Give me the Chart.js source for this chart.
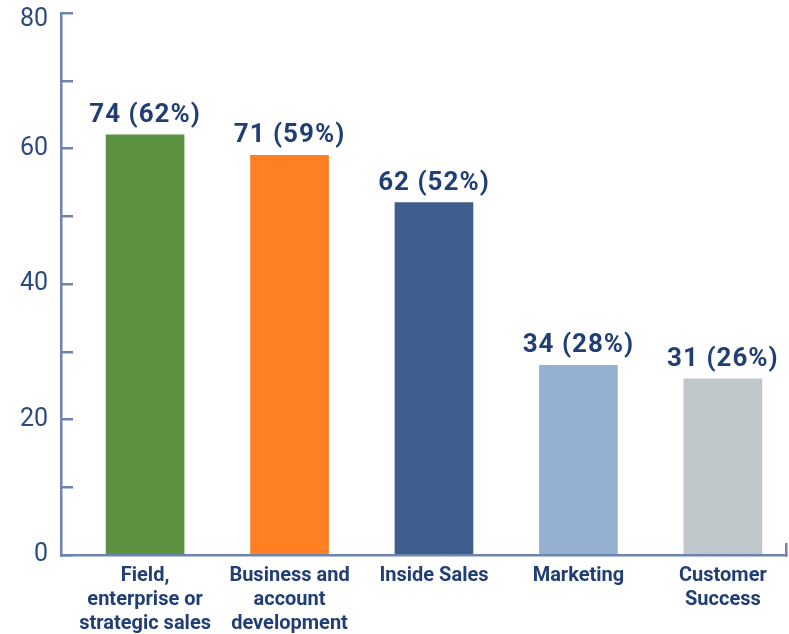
<!DOCTYPE html>
<html>
<head>
<meta charset="utf-8">
<script src="https://cdn.jsdelivr.net/npm/chart.js@4/dist/chart.umd.min.js"></script>
<style>
  html, body { margin: 0; padding: 0; background: #fff; }
  #wrap { width: 789px; height: 634px; }
</style>
</head>
<body>
<div id="wrap"><canvas id="roles"></canvas></div>
<script>
// roles of respondents: count and share of total
var roles = [
	['Field,', 'enterprise or', 'strategic sales'],
	['Business and', 'account', 'development'],
	'Inside Sales',
	'Marketing',
	['Customer', 'Success']
];
var counts = [74, 71, 62, 34, 31];
var shares = [62, 59, 52, 28, 26];
var barColors = ['#5b9140', '#ff7f22', '#3f5e8d', '#95b1d1', '#bfc7cb'];
var yTicks = [0, 20, 40, 60, 80];
var yMax = 80;

var axisColor = '#6c84ae';
var textColor = '#213f74';

// bars sit at x = 1..5 on a linear axis so the first one can keep its gap from the y axis
var points = shares.map(function(v, i) { return { x: i + 1, y: v }; });

// "74 (62%)" over each bar
var barLabels = {
	id: 'barLabels',
	afterDatasetsDraw: function(chart) {
		var ctx = chart.ctx;
		var meta = chart.getDatasetMeta(0);
		ctx.save();
		ctx.fillStyle = textColor;
		ctx.font = 'bold 26px Roboto';
		ctx.textAlign = 'center';
		ctx.textBaseline = 'alphabetic';
		if ('letterSpacing' in ctx) ctx.letterSpacing = '1px';
		meta.data.forEach(function(bar, i) {
			ctx.fillText(counts[i] + ' (' + shares[i] + '%)', bar.x, bar.y - 13);
		});
		ctx.restore();
	}
};

new Chart(document.getElementById('roles'), {
	type: 'bar',
	data: {
		datasets: [{
			data: points,
			backgroundColor: barColors,
			borderWidth: 0,
			barThickness: 78
		}]
	},
	options: {
		responsive: true,
		maintainAspectRatio: false,
		animation: false,
		layout: { padding: { top: 13, right: 3, left: 0, bottom: 0 } },
		plugins: {
			legend: { display: false },
			tooltip: { enabled: false }
		},
		scales: {
			x: {
				type: 'linear',
				min: 0.418,
				max: 5.437,
				offset: false,
				border: { color: axisColor, width: 2.5 },
				grid: {
					offset: false,
					drawOnChartArea: false,
					tickLength: -12,
					lineWidth: 2.5,
					// only the closing tick at the right end
					color: function(c) { return c.index === c.scale.ticks.length - 1 ? axisColor : 'rgba(0,0,0,0)'; }
				},
				ticks: {
					color: textColor,
					font: { family: 'Roboto', size: 20, weight: 'bold', lineHeight: 1.2 },
					padding: 21,
					maxRotation: 0,
					autoSkip: false,
					callback: function(v) { return Number.isInteger(v) ? roles[v - 1] : ''; }
				},
				// one tick per role plus one at the right end of the axis
				afterBuildTicks: function(s) {
					s.ticks = roles.map(function(r, i) { return { value: i + 1 }; }).concat({ value: s.max });
				},
				afterFit: function(s) { s.height = 79; s.paddingLeft = 0; s.paddingRight = 0; }
			},
			y: {
				min: 0,
				max: yMax,
				border: { color: axisColor, width: 2.5 },
				grid: {
					drawOnChartArea: false,
					tickLength: -12,
					lineWidth: 2.5,
					color: axisColor
				},
				ticks: {
					stepSize: 10,
					color: '#2b4b80',
					// top label is nudged down a little so it stays inside the canvas
					font: function(c) {
						return { family: 'Roboto', size: 25, weight: '400', lineHeight: c.tick && c.tick.value === yMax ? '13px' : 1.2 };
					},
					padding: 25,
					callback: function(v) {
						if (yTicks.indexOf(v) < 0) return '';
						return v === yMax ? ['', String(v)] : v;
					}
				},
				afterFit: function(s) { s.width = 61; s.paddingTop = 0; s.paddingBottom = 0; }
			}
		}
	},
	plugins: [barLabels]
});
</script>
</body>
</html>
